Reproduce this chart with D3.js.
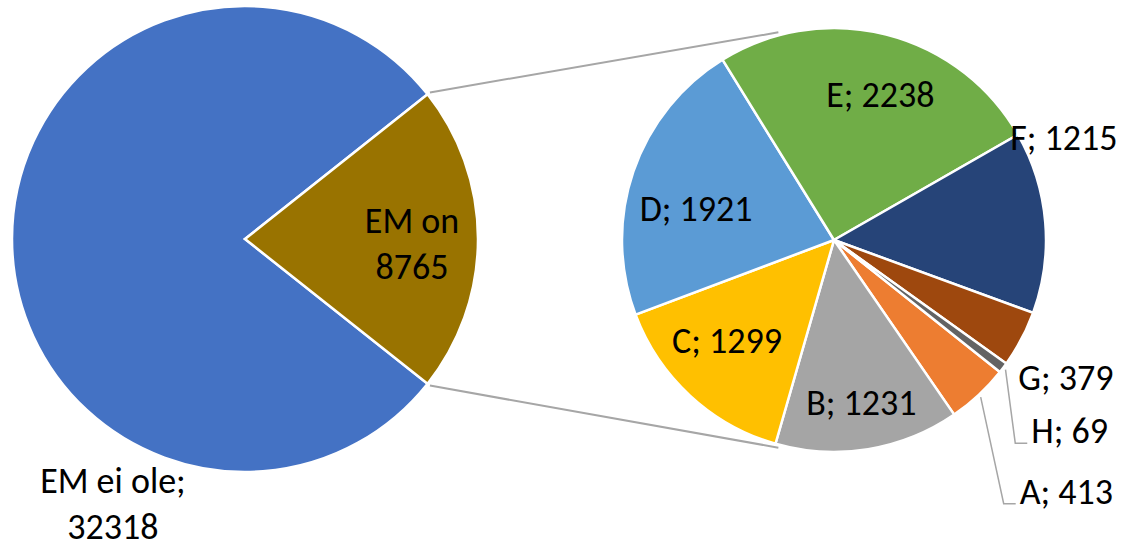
<!DOCTYPE html>
<html>
<head>
<meta charset="utf-8">
<script src="https://cdn.jsdelivr.net/npm/d3@7"></script>
<style>
  body { margin: 0; background: #fff; }
</style>
</head>
<body>
<script>
// main pie
const mainCategories = ["EM ei ole", "EM on"];
const mainValues = [32318, 8765];
const mainColors = ["#4472C4", "#997300"];
const mainLabels = [["EM ei ole;", "32318"], ["EM on", "8765"]];

// secondary pie (breakdown of "EM on")
const subCategories = ["A", "B", "C", "D", "E", "F", "G", "H"];
const subValues = [413, 1231, 1299, 1921, 2238, 1215, 379, 69];
const subColors = ["#ED7D31", "#A5A5A5", "#FFC000", "#5B9BD5", "#70AD47", "#264478", "#9E480E", "#636363"];

const width = 1122;
const height = 551;
const deg = Math.PI / 180;
const font = "Carlito, Lato, sans-serif";
const fontSize = 36;
const halfCap = 12.5;

const main = { cx: 245, cy: 239, r: 233 };
const sub = { cx: 834, cy: 240, r: 212 };

// label nudges from the label arc point (excel "best fit" placement)
const mainNudge = { "EM ei ole": [35, 265], "EM on": [0, 5.5] };
const subNudge = {
    A: [82, 140], B: [3, 12], C: [-4, -11], D: [6, 18],
    E: [9, 2], F: [78.5, -89.6], G: [50, 66.4], H: [76, 99]
};
const outside = { G: true, H: true, A: true };
const leader = { H: true, A: true };

const svg = d3.select("body")
    .append("svg")
    .attr("width", width)
    .attr("height", height);

// the "EM on" slice is centred on 3 o'clock
const otherShare = mainValues[1] / d3.sum(mainValues) * 2 * Math.PI;
const mainStart = Math.PI / 2 + otherShare / 2;

const mainPie = d3.pie().value(d => d).sort(null)
    .startAngle(mainStart).endAngle(mainStart + 2 * Math.PI);
const subStart = 128.5 * deg;
const subPie = d3.pie().value(d => d).sort(null)
    .startAngle(subStart).endAngle(subStart + 2 * Math.PI);

const mainArcs = mainPie(mainValues);
const subArcs = subPie(subValues);

function polar(c, r, a) {
    return [c.cx + r * Math.sin(a), c.cy - r * Math.cos(a)];
}

// connector lines
const otherArc = mainArcs[1];
const connectors = [
    [polar(main, main.r + 3, otherArc.startAngle), polar(sub, sub.r + 3, -15 * deg)],
    [polar(main, main.r + 3, otherArc.endAngle), polar(sub, sub.r + 3, Math.PI + 15 * deg)]
];
svg.selectAll("line.connector")
    .data(connectors)
    .enter()
    .append("line")
    .attr("class", "connector")
    .attr("x1", d => d[0][0]).attr("y1", d => d[0][1])
    .attr("x2", d => d[1][0]).attr("y2", d => d[1][1])
    .attr("stroke", "#A6A6A6")
    .attr("stroke-width", 2);

const mainArc = d3.arc().innerRadius(0).outerRadius(main.r);
const subArc = d3.arc().innerRadius(0).outerRadius(sub.r);

svg.append("g")
    .attr("transform", `translate(${main.cx},${main.cy})`)
    .selectAll("path")
    .data(mainArcs)
    .enter()
    .append("path")
    .attr("d", mainArc)
    .attr("fill", (d, i) => mainColors[i])
    .attr("stroke", "#fff")
    .attr("stroke-width", 2.5);

svg.append("g")
    .attr("transform", `translate(${sub.cx},${sub.cy})`)
    .selectAll("path")
    .data(subArcs)
    .enter()
    .append("path")
    .attr("d", subArc)
    .attr("fill", (d, i) => subColors[i])
    .attr("stroke", "#fff")
    .attr("stroke-width", 2.5);

function midAngle(d) {
    return (d.startAngle + d.endAngle) / 2;
}

// main labels, two lines
mainArcs.forEach((d, i) => {
    const p = polar(main, main.r * 0.717, midAngle(d));
    const n = mainNudge[mainCategories[i]];
    const cx = p[0] + n[0], cy = p[1] + n[1];
    svg.append("text")
        .attr("x", cx)
        .attr("y", cy - 11.5)
        .attr("text-anchor", "middle")
        .attr("font-family", font)
        .attr("font-size", fontSize)
        .attr("fill", "#000")
        .selectAll("tspan")
        .data(mainLabels[i])
        .enter()
        .append("tspan")
        .attr("x", cx)
        .attr("dy", (t, j) => j === 0 ? 0 : 46)
        .text(t => t);
});

// sub labels
subArcs.forEach((d, i) => {
    const cat = subCategories[i];
    const p = polar(sub, sub.r * 0.717, midAngle(d));
    const n = subNudge[cat];
    const x = p[0] + n[0];
    const baseline = p[1] + n[1] + halfCap;
    svg.append("text")
        .attr("x", x)
        .attr("y", baseline)
        .attr("text-anchor", outside[cat] ? "start" : "middle")
        .attr("font-family", font)
        .attr("font-size", fontSize)
        .attr("fill", "#000")
        .text(`${cat}; ${subValues[i]}`);

    if (leader[cat]) {
        const s = polar(sub, sub.r + 3, midAngle(d));
        svg.append("polyline")
            .attr("points", [s, [x - 16, baseline], [x - 4, baseline]].map(q => q.join(",")).join(" "))
            .attr("fill", "none")
            .attr("stroke", "#A6A6A6")
            .attr("stroke-width", 1.5);
    }
});
</script>
</body>
</html>
